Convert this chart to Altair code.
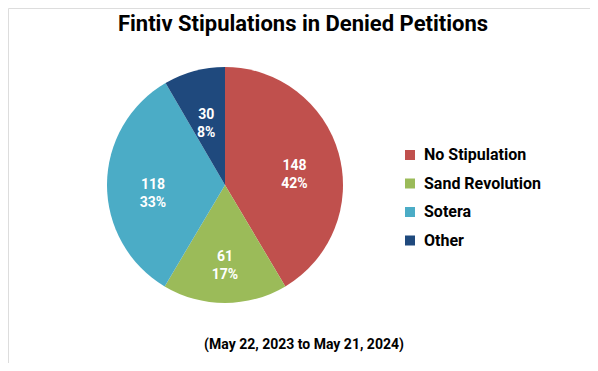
import altair as alt
import pandas as pd

categories = ["No Stipulation", "Sand Revolution", "Sotera", "Other"]
counts = [148, 61, 118, 30]
percents = ["42%", "17%", "33%", "8%"]
colors = ["#C0504D", "#9BBB59", "#4BACC6", "#1F497D"]
title_text = "Fintiv Stipulations in Denied Petitions"
subtitle_text = "(May 22, 2023 to May 21, 2024)"

df = pd.DataFrame({
    "category": categories,
    "count": counts,
    "pct": percents,
    "order": list(range(len(categories))),
})
df["label"] = [f"{c}\n{p}" for c, p in zip(counts, percents)]

FONT = "Roboto"
cx, cy, R = 217, 177, 118

base = alt.Chart(df).encode(
    theta=alt.Theta("count:Q", stack=True),
    order=alt.Order("order:Q"),
)

pie = base.mark_arc(outerRadius=R, strokeWidth=0).encode(
    x=alt.value(cx),
    y=alt.value(cy),
    color=alt.Color(
        "category:N",
        scale=alt.Scale(domain=categories, range=colors),
        sort=categories,
        legend=alt.Legend(
            title=None,
            orient="none",
            legendX=394,
            legendY=139,
            symbolType="square",
            symbolSize=100,
            symbolStrokeWidth=0,
            labelFont=FONT,
            labelFontSize=16,
            labelFontWeight="bold",
            labelColor="#000000",
            rowPadding=12.5,
            labelOffset=6,
        ),
    ),
)

labels = base.mark_text(
    radius=72, font=FONT, fontSize=14, fontWeight="bold", color="white",
    lineBreak="\n", lineHeight=18, align="center", baseline="middle",
).encode(
    x=alt.value(cx),
    y=alt.value(cy),
    text="label:N",
)

title = alt.Chart(pd.DataFrame({"t": [title_text]})).mark_text(
    font=FONT, fontSize=22, fontWeight="bold", color="#000000",
    align="center", baseline="alphabetic",
).encode(x=alt.value(295), y=alt.value(23), text="t:N")

subtitle = alt.Chart(pd.DataFrame({"t": [subtitle_text]})).mark_text(
    font=FONT, fontSize=14, fontWeight="bold", color="#000000",
    align="center", baseline="middle",
).encode(x=alt.value(296), y=alt.value(337), text="t:N")

chart = alt.layer(pie, labels, title, subtitle).properties(
    width=582, height=355, padding=0, autosize="none",
).configure_view(stroke=None).configure(background="white")

chart.save("out.html", embed_options={"renderer": "svg", "actions": False})
